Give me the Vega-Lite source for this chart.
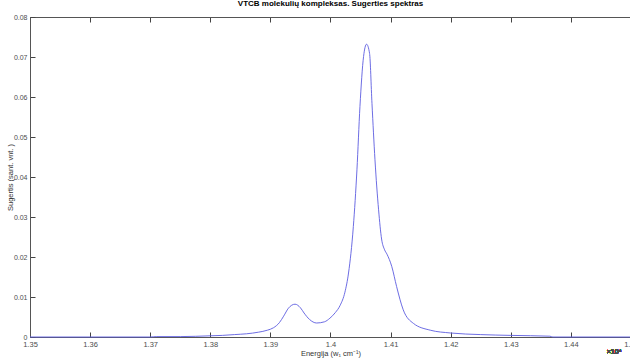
{
  "$schema": "https://vega.github.io/schema/vega-lite/v6.json",
  "width": 601,
  "height": 320,
  "autosize": {"type": "none"},
  "padding": {"left": 30, "top": 17, "right": 0, "bottom": 26},
  "background": "white",
  "title": {
    "text": "VTCB molekulių kompleksas. Sugerties spektras",
    "font": "Liberation Sans",
    "fontSize": 8,
    "fontWeight": "bold",
    "color": "#000000",
    "anchor": "middle",
    "offset": 5
  },
  "data": {
    "values": [
      {"e": 1.35, "a": 0.0},
      {"e": 1.36, "a": 0.0},
      {"e": 1.37, "a": 0.0},
      {"e": 1.371, "a": 0.0001},
      {"e": 1.375, "a": 0.0001},
      {"e": 1.38, "a": 0.0003},
      {"e": 1.382, "a": 0.0004},
      {"e": 1.384, "a": 0.0006},
      {"e": 1.386, "a": 0.0008},
      {"e": 1.388, "a": 0.0012},
      {"e": 1.3895, "a": 0.0017},
      {"e": 1.3905, "a": 0.0023},
      {"e": 1.3915, "a": 0.0036},
      {"e": 1.3922, "a": 0.0052},
      {"e": 1.393, "a": 0.0072},
      {"e": 1.3941, "a": 0.0082},
      {"e": 1.395, "a": 0.0073},
      {"e": 1.3956, "a": 0.0060},
      {"e": 1.3965, "a": 0.0044},
      {"e": 1.3977, "a": 0.0035},
      {"e": 1.399, "a": 0.0038},
      {"e": 1.3999, "a": 0.0047},
      {"e": 1.4008, "a": 0.0061},
      {"e": 1.4016, "a": 0.0079},
      {"e": 1.4024, "a": 0.0112},
      {"e": 1.403, "a": 0.0160},
      {"e": 1.4038, "a": 0.0276},
      {"e": 1.4044, "a": 0.0418},
      {"e": 1.4049, "a": 0.0576},
      {"e": 1.4055, "a": 0.0701},
      {"e": 1.406, "a": 0.0732},
      {"e": 1.4065, "a": 0.0709},
      {"e": 1.4069, "a": 0.0584},
      {"e": 1.4074, "a": 0.0443},
      {"e": 1.408, "a": 0.0318},
      {"e": 1.4085, "a": 0.0245},
      {"e": 1.409, "a": 0.0218},
      {"e": 1.4094, "a": 0.0207},
      {"e": 1.4102, "a": 0.0176},
      {"e": 1.411, "a": 0.0126},
      {"e": 1.4121, "a": 0.0068},
      {"e": 1.4138, "a": 0.0034},
      {"e": 1.4166, "a": 0.0017},
      {"e": 1.42, "a": 0.0010},
      {"e": 1.425, "a": 0.0006},
      {"e": 1.43, "a": 0.0004},
      {"e": 1.4365, "a": 0.0002},
      {"e": 1.437, "a": 0.0},
      {"e": 1.45, "a": 0.0}
    ]
  },
  "layer": [
    {
      "mark": {"type": "line", "color": "#5c5ce0", "strokeWidth": 0.9, "interpolate": "monotone"},
      "encoding": {
        "x": {
          "field": "e",
          "type": "quantitative",
          "scale": {"domain": [1.35, 1.45], "nice": false, "zero": false},
          "axis": {
            "orient": "bottom",
            "values": [1.35, 1.36, 1.37, 1.38, 1.39, 1.4, 1.41, 1.42, 1.43, 1.44, 1.45],
            "labelExpr": "format(datum.value, '~g')",
            "labelFlush": false,
            "labelOverlap": false,
            "title": "Energija (w₁ cm⁻¹)",
            "titlePadding": 2
          }
        },
        "y": {
          "field": "a",
          "type": "quantitative",
          "scale": {"domain": [0, 0.08], "nice": false},
          "axis": {
            "orient": "left",
            "values": [0, 0.01, 0.02, 0.03, 0.04, 0.05, 0.06, 0.07, 0.08],
            "labelExpr": "format(datum.value, '~g')",
            "labelFlush": false,
            "labelOverlap": false,
            "labelFontSize": 7,
            "title": "Sugertis (sant. vnt. )",
            "titlePadding": -1
          }
        }
      }
    },
    {
      "mark": {"type": "text", "text": "×10⁴", "font": "Liberation Sans", "fontSize": 7, "fill": "#4d4d4d", "baseline": "middle", "align": "center"},
      "encoding": {
        "x": {
          "datum": 1.4472,
          "type": "quantitative",
          "scale": {"domain": [1.35, 1.45], "nice": false, "zero": false},
          "axis": {
            "orient": "top",
            "values": [1.35, 1.36, 1.37, 1.38, 1.39, 1.4, 1.41, 1.42, 1.43, 1.44, 1.45],
            "labels": false,
            "title": null
          }
        },
        "y": {
          "datum": -0.00385,
          "type": "quantitative",
          "scale": {"domain": [0, 0.08], "nice": false},
          "axis": null
        }
      }
    }
  ],
  "resolve": {"axis": {"x": "independent", "y": "independent"}},
  "config": {
    "view": {"stroke": "#555555", "strokeWidth": 1},
    "axis": {
      "grid": false,
      "domainColor": "#555555",
      "domainWidth": 1,
      "tickColor": "#444444",
      "tickWidth": 1,
      "tickSize": -5,
      "labelPadding": 8,
      "labelFont": "Liberation Sans",
      "labelFontSize": 7.5,
      "labelColor": "#4d4d4d",
      "titleFont": "Liberation Sans",
      "titleFontSize": 7.5,
      "titleFontWeight": "normal",
      "titleColor": "#333333"
    }
  }
}
